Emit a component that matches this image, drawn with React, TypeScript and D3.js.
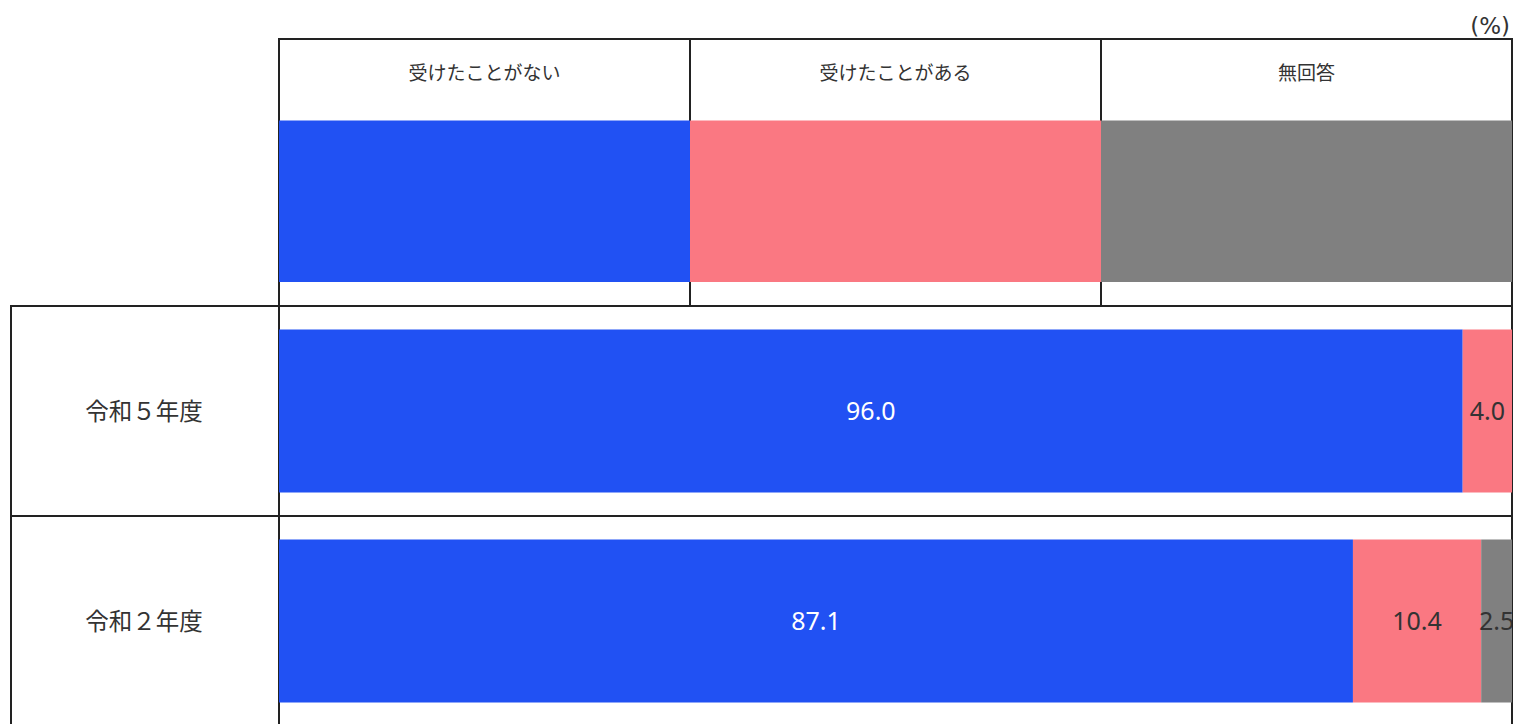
import React from "react";
import * as d3 from "d3";

const categories = ["令和５年度", "令和２年度"];
const seriesNames = ["受けたことがない", "受けたことがある", "無回答"];
const seriesColors = ["#2151F3", "#FA7882", "#808080"];
const valuesNever = [96.0, 87.1];
const valuesYes = [4.0, 10.4];
const valuesNoAnswer = [0.0, 2.5];
const unitLabel = "(%)";

const W = 1514;
const H = 724;
const FONT = "'Noto Sans CJK JP', 'Noto Sans', sans-serif";
const NUMFONT = "'Noto Sans', sans-serif";
const LINE = "#222";
const TEXT = "#333";

export default function App() {
  const x = d3.scaleLinear().domain([0, 100]).range([279, 1512]);
  const y = d3.scaleBand<string>().domain(categories).range([306, 726]);
  const headerX = d3.scaleBand<string>().domain(seriesNames).range([279, 1512]);

  const table = categories.map((c, i) => ({
    cat: c,
    vals: [valuesNever[i], valuesYes[i], valuesNoAnswer[i]],
  }));
  const stack = d3.stack<any, number>()
    .keys([0, 1, 2] as any)
    .value((d: any, k: any) => d.vals[k]);
  const stacked = stack(table as any);

  const barInset = 23.5;
  const barH = 163;

  return (
    <div style={{ position: "absolute", left: 0, top: 0 }}>
      <svg width={W} height={H} style={{ display: "block", background: "#fff" }} fontFamily={FONT}>
        <defs>
          <clipPath id="plotClip">
            <rect x={279} y={0} width={1512 - 279} height={H} />
          </clipPath>
        </defs>
        <text x={1510} y={34} textAnchor="end" fontSize={23} fontFamily="'DejaVu Sans', sans-serif" fill={TEXT}>{unitLabel}</text>

        {/* header grid */}
        <line x1={278} x2={1513} y1={39} y2={39} stroke={LINE} strokeWidth={2} />
        {seriesNames.slice(1).map((s) => (
          <line key={s} x1={headerX(s)} x2={headerX(s)} y1={39} y2={306} stroke={LINE} strokeWidth={2} />
        ))}
        {/* outer lines */}
        <line x1={279} x2={279} y1={38} y2={H} stroke={LINE} strokeWidth={2} />
        <line x1={1512} x2={1512} y1={38} y2={H} stroke={LINE} strokeWidth={2} />
        <line x1={11} x2={11} y1={305} y2={H} stroke={LINE} strokeWidth={2} />
        {categories.map((c) => (
          <line key={c} x1={10} x2={1513} y1={y(c)!} y2={y(c)!} stroke={LINE} strokeWidth={2} />
        ))}

        {/* header legend cells */}
        {seriesNames.map((s, i) => (
          <g key={s}>
            <text x={headerX(s)! + headerX.bandwidth() / 2} y={80} textAnchor="middle" fontSize={19} fill={TEXT}>{s}</text>
            <rect x={headerX(s)!} y={120.5} width={headerX.bandwidth()} height={161.5} fill={seriesColors[i]} />
          </g>
        ))}

        {/* row labels */}
        {categories.map((c) => (
          <text key={c} x={144} y={y(c)! + y.bandwidth() / 2 + 9} textAnchor="middle" fontSize={23.5} fill={TEXT}>{c}</text>
        ))}

        {/* bars */}
        <g clipPath="url(#plotClip)">
          {stacked.map((layer, si) =>
            layer.map((d: any, ri) => {
              const cat = categories[ri];
              const x0 = x(d[0]);
              const x1 = x(d[1]);
              const v = d[1] - d[0];
              const top = y(cat)! + barInset;
              return (
                <g key={si + "-" + ri}>
                  {v > 0 && <rect x={x0} y={top} width={x1 - x0} height={barH} fill={seriesColors[si]} />}
                  {v > 0 && (
                    <text x={(x0 + x1) / 2} y={top + barH / 2 + 9} textAnchor="middle" fontSize={25}
                      fontFamily={NUMFONT} fill={si === 0 ? "#fff" : TEXT}>{v.toFixed(1)}</text>
                  )}
                </g>
              );
            })
          )}
        </g>
      </svg>
    </div>
  );
}
